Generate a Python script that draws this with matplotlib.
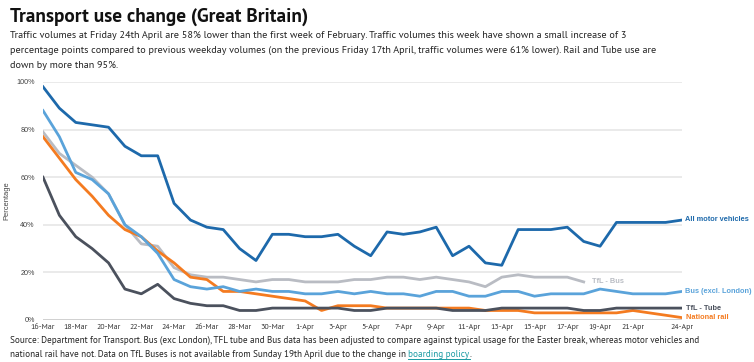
import matplotlib
matplotlib.use("Agg")
import matplotlib.pyplot as plt
import numpy as np

plt.rcParams['font.family'] = ['PT Sans', 'DejaVu Sans']

dates = ["16-Mar", "17-Mar", "18-Mar", "19-Mar", "20-Mar", "21-Mar", "22-Mar", "23-Mar",
         "24-Mar", "25-Mar", "26-Mar", "27-Mar", "28-Mar", "29-Mar", "30-Mar", "31-Mar",
         "1-Apr", "2-Apr", "3-Apr", "4-Apr", "5-Apr", "6-Apr", "7-Apr", "8-Apr", "9-Apr",
         "10-Apr", "11-Apr", "12-Apr", "13-Apr", "14-Apr", "15-Apr", "16-Apr", "17-Apr",
         "18-Apr", "19-Apr", "20-Apr", "21-Apr", "22-Apr", "23-Apr", "24-Apr"]

motor = [98, 89, 83, 82, 81, 73, 69, 69, 49, 42, 39, 38, 30, 25, 36, 36, 35, 35, 36, 31,
         27, 37, 36, 37, 39, 27, 31, 24, 23, 38, 38, 38, 39, 33, 31, 41, 41, 41, 41, 42]
bus_excl = [88, 77, 62, 59, 53, 40, 35, 28, 17, 14, 13, 14, 12, 13, 12, 12, 11, 11, 12, 11,
            12, 11, 11, 10, 12, 12, 10, 10, 12, 12, 10, 11, 11, 11, 13, 12, 11, 11, 11, 12]
tfl_bus = [79, 70, 65, 60, 53, 40, 32, 31, 22, 19, 18, 18, 17, 16, 17, 17, 16, 16, 16, 17,
           17, 18, 18, 17, 18, 17, 16, 14, 18, 19, 18, 18, 18, 16]
tube = [60, 44, 35, 30, 24, 13, 11, 15, 9, 7, 6, 6, 4, 4, 5, 5, 5, 5, 5, 4,
        4, 5, 5, 5, 5, 4, 4, 4, 5, 5, 5, 5, 5, 4, 4, 5, 5, 5, 5, 5]
rail = [77, 68, 59, 52, 44, 38, 35, 29, 24, 18, 17, 12, 12, 11, 10, 9, 8, 4, 6, 6,
        6, 5, 5, 5, 5, 5, 5, 4, 4, 4, 3, 3, 3, 3, 3, 3, 4, 3, 2, 1]

tick_labels = ["16-Mar", "18-Mar", "20-Mar", "22-Mar", "24-Mar", "26-Mar", "28-Mar", "30-Mar",
               "1-Apr", "3-Apr", "5-Apr", "7-Apr", "9-Apr", "11-Apr", "13-Apr", "15-Apr",
               "17-Apr", "19-Apr", "21-Apr", "24-Apr"]
y_ticks = [0, 20, 40, 60, 80, 100]

c_motor = "#1d69ab"
c_bus = "#5aa3da"
c_tflbus = "#b9bcc3"
c_tube = "#4b515d"
c_rail = "#f47b20"
arial = ['Liberation Sans', 'DejaVu Sans']

W, H = 754, 362
fig = plt.figure(figsize=(W/100, H/100), dpi=100)
ax = fig.add_axes([43/W, 1-320/H, (682-43)/W, (320-82)/H])

x = np.arange(len(dates))
lw = 2.0
ax.plot(x[:len(tfl_bus)], tfl_bus, color=c_tflbus, lw=lw, zorder=3)
ax.plot(x, rail, color=c_rail, lw=lw, zorder=4)
ax.plot(x, tube, color=c_tube, lw=lw, zorder=5)
ax.plot(x, bus_excl, color=c_bus, lw=lw, zorder=6)
ax.plot(x, motor, color=c_motor, lw=lw, zorder=7)

ax.set_xlim(0, len(dates) - 1)
ax.set_ylim(0, 100)
ax.set_yticks(y_ticks)
ax.set_yticklabels([f"{v}%" for v in y_ticks], fontsize=5.2, color="#444444", family=arial)
ax.set_xticks([dates.index(t) for t in tick_labels])
ax.set_xticklabels(tick_labels, fontsize=5.7, color="#333333")
ax.tick_params(axis='both', length=0)
ax.tick_params(axis='x', pad=3)
ax.tick_params(axis='y', pad=6)
for v in y_ticks[1:]:
    ax.axhline(v, color="#e6e6e6", lw=1.2, zorder=1)
ax.axhline(0, color="#cccccc", lw=2, zorder=1)
for s in ax.spines.values():
    s.set_visible(False)
ax.set_ylabel("Percentage", fontsize=5.4, color="#444444", family=arial)
ax.yaxis.set_label_coords((10.5 - 43) / (682 - 43), 0.5)

lab_font = dict(fontsize=5.3, fontweight='bold', va='center', family=arial)
last = len(dates) - 1
ax.annotate("All motor vehicles", (last, motor[-1]), xytext=(2, 0.5), textcoords='offset points',
            color=c_motor, **lab_font)
ax.annotate("Bus (excl. London)", (last, bus_excl[-1]), xytext=(2, 0), textcoords='offset points',
            color=c_bus, **lab_font)
ax.annotate("TfL - Tube", (last, tube[-1]), xytext=(3, 0), textcoords='offset points',
            color=c_tube, **lab_font)
ax.annotate("National rail", (last, rail[-1]), xytext=(3, 0), textcoords='offset points',
            color=c_rail, **lab_font)
ax.annotate("TfL - Bus", (len(tfl_bus) - 1, tfl_bus[-1]), xytext=(6, 0), textcoords='offset points',
            color=c_tflbus, **lab_font)

fig.text(10/W, 1-22/H, "Transport use change (Great Britain)", fontsize=13.9, fontweight='bold',
         va='baseline', ha='left', color="#111111")
sub = ["Traffic volumes at Friday 24th April are 58% lower than the first week of February. Traffic volumes this week have shown a small increase of 3",
       "percentage points compared to previous weekday volumes (on the previous Friday 17th April, traffic volumes were 61% lower). Rail and Tube use are",
       "down by more than 95%."]
for i, line in enumerate(sub):
    fig.text(10/W, 1-(37.5 + 15.3*i)/H, line, fontsize=7.25, va='baseline', ha='left', color="#222222")

foot1 = "Source: Department for Transport. Bus (exc London), TFL tube and Bus data has been adjusted to compare against typical usage for the Easter break, whereas motor vehicles and"
foot2a = "national rail have not. Data on TfL Buses is not available from Sunday 19th April due to the change in "
foot2b = "boarding policy"
fs = 6.55
fig.text(10/W, 1-343/H, foot1, fontsize=fs, va='baseline', ha='left', color="#222222")
t2 = fig.text(10/W, 1-357/H, foot2a, fontsize=fs, va='baseline', ha='left', color="#222222")
fig.canvas.draw()
bb = t2.get_window_extent()
x2 = bb.x1 / fig.bbox.width
t3 = fig.text(x2, 1-357/H, foot2b, fontsize=fs, va='baseline', ha='left', color="#1a9ba3")
fig.canvas.draw()
bb3 = t3.get_window_extent()
fig.lines.append(plt.Line2D([bb3.x0/fig.bbox.width, bb3.x1/fig.bbox.width],
                            [(H - 358.5)/H]*2, color="#1a9ba3", lw=0.7,
                            transform=fig.transFigure, figure=fig))
fig.text(bb3.x1/fig.bbox.width, 1-357/H, ".", fontsize=fs, va='baseline', ha='left', color="#222222")

fig.savefig("out.png", dpi=100)
